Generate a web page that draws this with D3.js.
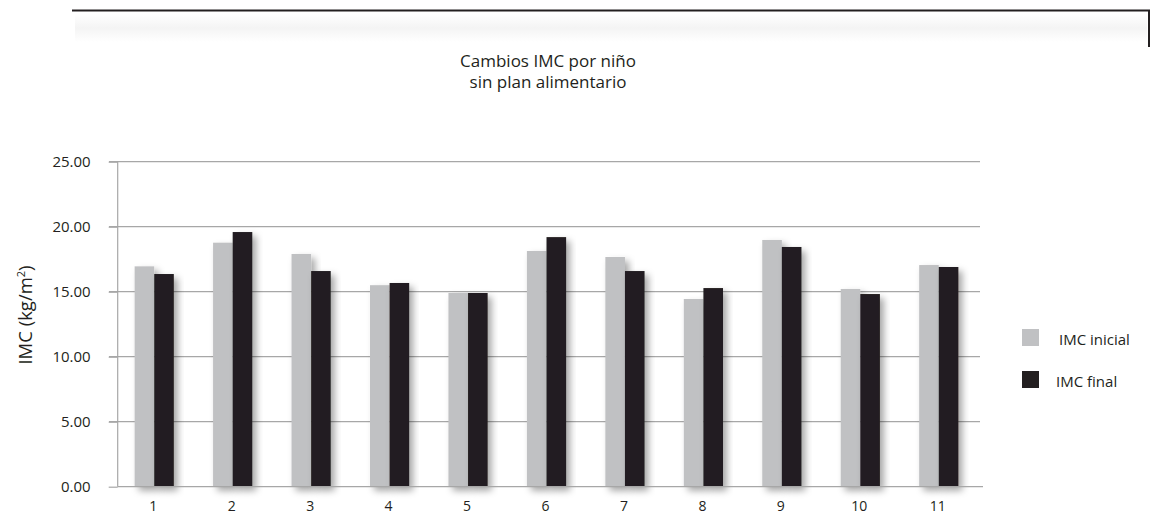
<!DOCTYPE html>
<html>
<head>
<meta charset="utf-8">
<script src="https://cdn.jsdelivr.net/npm/d3@7"></script>
<style>
  body { margin: 0; background: #fff; }
  text { font-family: "Open Sans", "Noto Sans", sans-serif; fill: #231f20; }
</style>
</head>
<body>
<svg id="chart" width="1163" height="516"></svg>
<script>
const categories = ['1', '2', '3', '4', '5', '6', '7', '8', '9', '10', '11'];
const imcInicial = [16.95, 18.77, 17.90, 15.50, 14.90, 18.13, 17.67, 14.44, 18.98, 15.21, 17.05];
const imcFinal   = [16.36, 19.59, 16.59, 15.67, 14.90, 19.20, 16.59, 15.28, 18.44, 14.82, 16.90];
const yTicks = [0, 5, 10, 15, 20, 25];
const series = [
    { name: 'IMC inicial', values: imcInicial, color: '#c0c1c3' },
    { name: 'IMC final',   values: imcFinal,   color: '#231f20' }
];

const svg = d3.select('#chart');

const defs = svg.append('defs');
defs.append('filter').attr('id', 'shadow')
    .attr('x', '-50%').attr('y', '-10%').attr('width', '200%').attr('height', '130%')
    .append('feDropShadow')
    .attr('dx', 4).attr('dy', 4).attr('stdDeviation', 3.5)
    .attr('flood-color', '#000').attr('flood-opacity', 0.35);

const band = defs.append('linearGradient').attr('id', 'topband')
    .attr('x1', 0).attr('y1', 0).attr('x2', 0).attr('y2', 1);
band.append('stop').attr('offset', '0%').attr('stop-color', '#fff');
band.append('stop').attr('offset', '50%').attr('stop-color', '#f4f4f4');
band.append('stop').attr('offset', '100%').attr('stop-color', '#fff');

// header frame
svg.append('rect').attr('x', 75).attr('y', 14).attr('width', 1072).attr('height', 28)
    .attr('fill', 'url(#topband)');
svg.append('path')
    .attr('d', 'M72,10.5H1149V47')
    .attr('fill', 'none').attr('stroke', '#231f20').attr('stroke-width', 2);

// title
const title = svg.append('text').attr('text-anchor', 'middle').attr('font-size', 17);
title.append('tspan').attr('x', 548).attr('y', 67).text('Cambios IMC por niño');
title.append('tspan').attr('x', 548).attr('y', 88).text('sin plan alimentario');

const x0 = d3.scaleBand().domain(categories).range([115, 978]);
const y = d3.scaleLinear().domain([0, 25]).range([486.7, 161.7]);
const barW = 19.6;

// gridlines
svg.append('g').selectAll('line').data(yTicks.filter(d => d > 0)).join('line')
    .attr('x1', 109).attr('x2', 980)
    .attr('y1', d => y(d)).attr('y2', d => y(d))
    .attr('stroke', '#a7a7a7').attr('stroke-width', 1.2);

// bars
const groups = svg.append('g').selectAll('g').data(categories).join('g')
    .attr('transform', d => `translate(${x0(d) + x0.bandwidth() / 2},0)`);

groups.selectAll('rect')
    .data((d, i) => series.map((s, j) => ({ v: s.values[i], color: s.color, j })))
    .join('rect')
    .attr('x', d => d.j === 0 ? -barW : 0)
    .attr('width', barW)
    .attr('y', d => y(d.v))
    .attr('height', d => y(0) - y(d.v))
    .attr('fill', d => d.color)
    .attr('filter', 'url(#shadow)');

// axes
const yAxis = svg.append('g').attr('transform', 'translate(117.7,0)')
    .call(d3.axisLeft(y).tickValues(yTicks).tickFormat(d3.format('.2f')).tickSize(9).tickPadding(18));
yAxis.select('.domain').attr('stroke', '#a7a7a7').attr('stroke-width', 1.2).attr('d', `M0,${y(25)}V${y(0)}`);
yAxis.selectAll('.tick line').attr('stroke', '#a7a7a7').attr('stroke-width', 1.2);
yAxis.selectAll('.tick text').attr('font-size', 15).attr('font-family', '"Open Sans", sans-serif').attr('fill', '#231f20');

svg.append('line').attr('x1', 117.7).attr('x2', 983).attr('y1', y(0)).attr('y2', y(0))
    .attr('stroke', '#a7a7a7').attr('stroke-width', 1.2);

svg.append('g').selectAll('text').data(categories).join('text')
    .attr('x', d => x0(d) + x0.bandwidth() / 2 - 1)
    .attr('y', 510.5)
    .attr('text-anchor', 'middle').attr('font-size', 14)
    .text(d => d);

// y label
svg.append('text')
    .attr('transform', 'translate(32,315) rotate(-90)')
    .attr('text-anchor', 'middle').attr('font-size', 18.5)
    .html('IMC (kg/m<tspan dy="-7" font-size="11">2</tspan><tspan dy="7">)</tspan>');

// legend
const legend = svg.append('g').selectAll('g').data(series).join('g')
    .attr('transform', (d, i) => `translate(1022,${329 + i * 42})`);
legend.append('rect').attr('width', 17).attr('height', 17).attr('fill', d => d.color);
legend.append('text').attr('x', (d, i) => i === 0 ? 37 : 34).attr('y', 16)
    .attr('font-size', 15).text(d => d.name);
</script>
</body>
</html>
